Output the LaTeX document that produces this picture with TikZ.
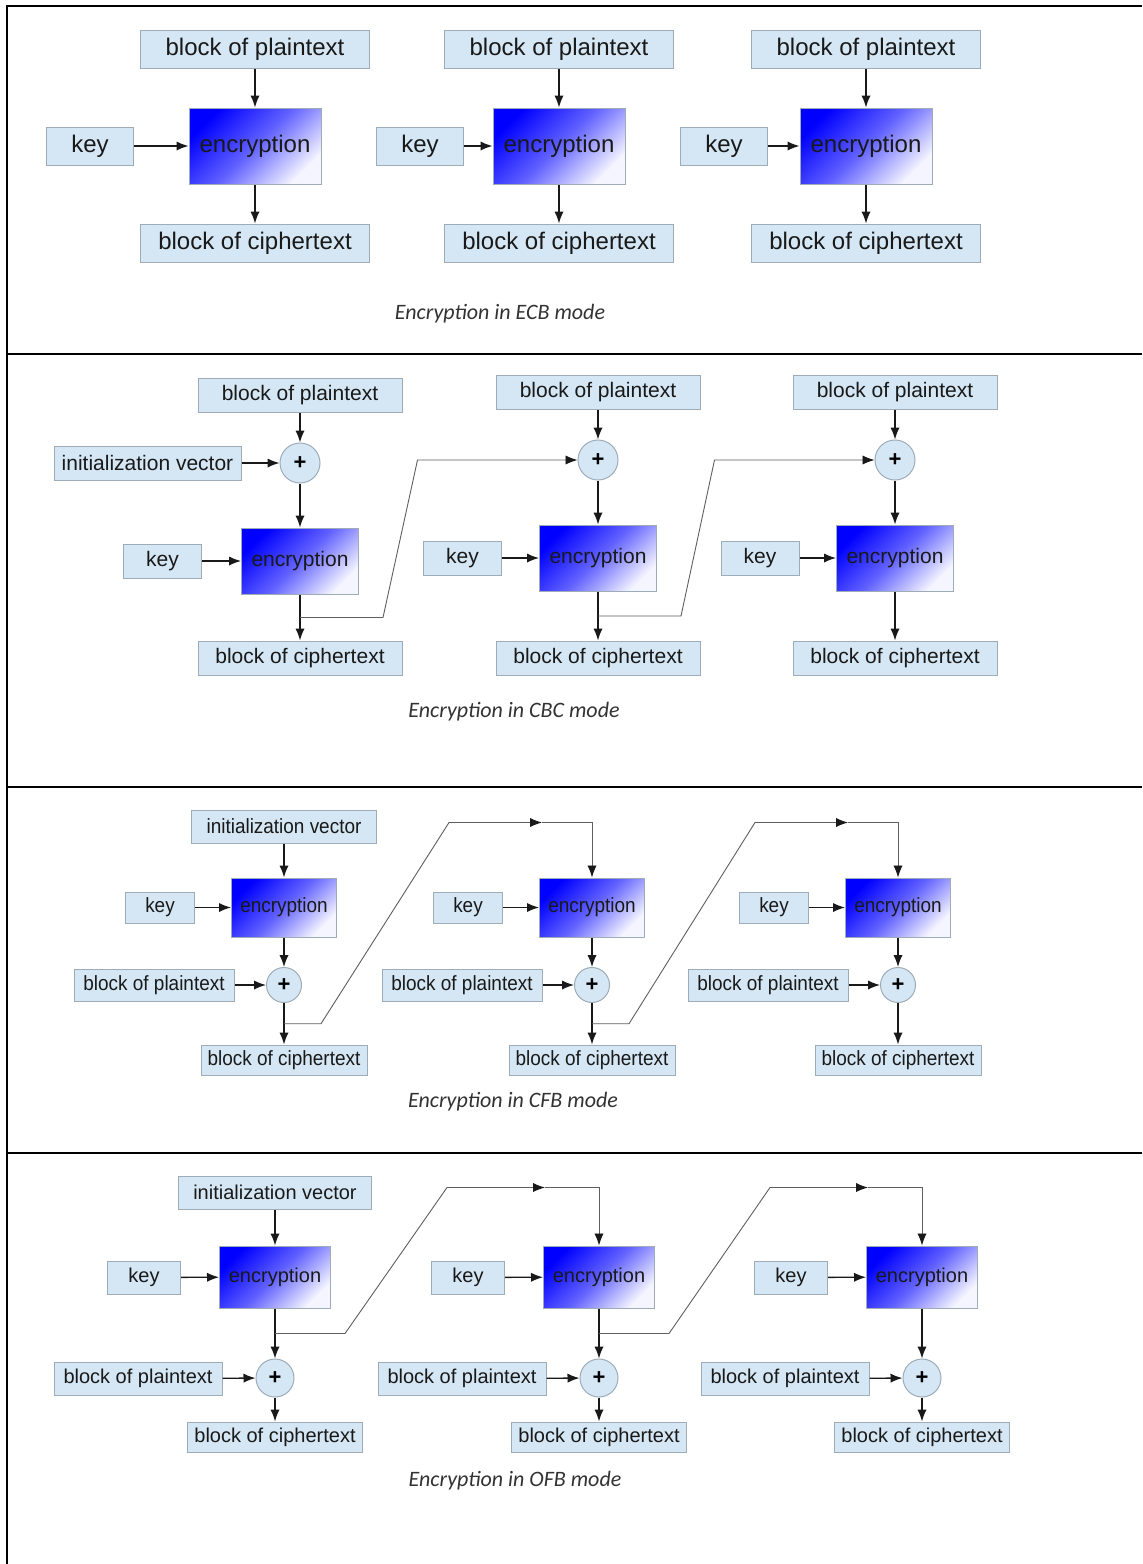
\documentclass[tikz,border=0pt]{standalone}
\usepackage{fontspec}
\setmainfont{Liberation Sans}
\newfontfamily\capfont{Carlito}
\newfontfamily\narrowfont[FakeStretch=0.92]{Liberation Sans}
\usetikzlibrary{%
  arrows.meta,%
  calc%
}
\definecolor{boxfill}{RGB}{213,231,244}
\definecolor{boxline}{RGB}{158,172,184}
\definecolor{inktext}{RGB}{25,25,25}
\definecolor{feedgray}{RGB}{95,95,95}
\newcommand\ecbfont{\fontsize{12}{14}\selectfont}
\newcommand\cbcfont{\fontsize{10.5}{12}\selectfont}
\newcommand\cfbfont{\narrowfont\fontsize{10.3}{12}\selectfont}
\newcommand\ofbfont{\fontsize{10}{12}\selectfont}
\tikzset{>={Latex[length=6pt,width=4.6pt]}}
\tikzset{block/.style 2 args={draw=boxline, fill=boxfill, line width=0.5pt,
    inner sep=0pt, minimum width=#1*0.5pt, minimum height=#2*0.5pt, text=inktext},
  encbox/.style 2 args={draw=boxline, line width=0.5pt, inner sep=0pt,
    top color=blue, bottom color=blue!4, middle color=blue!62, shading angle=45,
    minimum width=#1*0.5pt, minimum height=#2*0.5pt, text=inktext},
  xorcirc/.style={circle, draw=boxline, fill=boxfill, line width=0.5pt, inner sep=0pt,
    minimum size=#1*0.5pt, font=\bfseries\fontsize{11}{12}\selectfont},
  link/.style={->, line width=0.65pt, draw=inktext},
  feed/.style={-{Latex[length=6pt,width=4.6pt,color=inktext]}, line width=0.45pt,
    draw=feedgray},
  frameline/.style={line width=1.2pt},
  caption/.style={font=\capfont\itshape\fontsize{11}{13}\selectfont, text=black!80}}

\begin{document}
\begin{tikzpicture}[x=0.5pt, y=-0.5pt]
  \path[fill=white, use as bounding box] (0,0) rectangle (1142,1564);
  % frame and separators
  \draw[frameline] (7,1564) -- (7,6) -- (1142,6);
  \foreach \y in {354,787,1153}
    \draw[frameline] (7,\y) -- (1142,\y);

  % ECB
  \foreach \i/\cx/\kx in {1/255/90, 2/559/420, 3/866/724}{
    \node[block={229}{38}, font=\ecbfont] (ecbP\i) at (\cx,49) {block of plaintext};
    \node[encbox={132}{76}, font=\ecbfont] (ecbE\i) at (\cx,146) {encryption};
    \node[block={87}{38}, font=\ecbfont] (ecbK\i) at (\kx,146) {key};
    \node[block={229}{38}, font=\ecbfont] (ecbC\i) at (\cx,243) {block of ciphertext};
    \draw[link] (ecbP\i) -- (ecbE\i);
    \draw[link] (ecbK\i) -- (ecbE\i);
    \draw[link] (ecbE\i) -- (ecbC\i);
  }
  \node[caption] (ecbCap) at (500,314) {Encryption in ECB mode};

  % CBC
  \node[block={187}{34}, font=\cbcfont] (cbcIV) at (147.5,463) {initialization vector};
  \foreach \i/\cx/\dy/\kx in {1/300/3/162.5, 2/598/0/462.5, 3/895/0/760}{
    \node[block={204}{34}, font=\cbcfont] (cbcP\i) at (\cx,392+\dy) {block of plaintext};
    \node[xorcirc=40] (cbcX\i) at (\cx,460+\dy) {+};
    \node[encbox={117}{66}, font=\cbcfont] (cbcE\i) at (\cx,558+\dy) {encryption};
    \node[block={78}{34}, font=\cbcfont] (cbcK\i) at (\kx,558+\dy) {key};
    \node[block={204}{34}, font=\cbcfont] (cbcC\i) at (\cx,658) {block of ciphertext};
    \coordinate (cbcJ\i) at ($(cbcE\i.south)!0.5!(cbcC\i.north)$);
    \draw[link] (cbcP\i) -- (cbcX\i);
    \draw[link] (cbcX\i) -- (cbcE\i);
    \draw[link] (cbcK\i) -- (cbcE\i);
    \draw[link] (cbcE\i) -- (cbcC\i);
  }
  \draw[link] (cbcIV) -- (cbcX1);
  \foreach \i/\j in {1/2, 2/3}
    \draw[feed] (cbcJ\i) -- ++(83,0) -- ($(cbcX\j.west)+(-160,0)$) -- (cbcX\j.west);
  \node[caption] (cbcCap) at (514,712) {Encryption in CBC mode};

  % CFB
  \node[block={185}{33}, font=\cfbfont] (cfbIV) at (284,826.5) {initialization vector};
  \foreach \i/\cx in {1/284, 2/592, 3/898}{
    \node[encbox={105}{59}, font=\cfbfont] (cfbE\i) at (\cx,907.5) {encryption};
    \node[block={69}{31}, font=\cfbfont] (cfbK\i) at (\cx-124,907.5) {key};
    \node[xorcirc=35] (cfbX\i) at (\cx,985) {+};
    \node[block={160}{32}, font=\cfbfont] (cfbP\i) at (\cx-130,985) {block of plaintext};
    \node[block={166}{30}, font=\cfbfont] (cfbC\i) at (\cx,1060) {block of ciphertext};
    \coordinate (cfbJ\i) at ($(cfbX\i.south)!0.5!(cfbC\i.north)$);
    \coordinate (cfbM\i) at ($(cfbE\i.north)+(-50,-55)$);
    \draw[link] (cfbK\i) -- (cfbE\i);
    \draw[link] (cfbE\i) -- (cfbX\i);
    \draw[link] (cfbP\i) -- (cfbX\i);
    \draw[link] (cfbX\i) -- (cfbC\i);
  }
  \draw[link] (cfbIV) -- (cfbE1);
  \foreach \i/\j in {1/2, 2/3}{
    \draw[feed] (cfbJ\i) -- ++(37,0) -- ($(cfbM\j)+(-93,0)$) -- (cfbM\j);
    \draw[feed] (cfbM\j) -| (cfbE\j.north);
  }
  \node[caption] (cfbCap) at (513,1102) {Encryption in CFB mode};

  % OFB
  \node[block={193}{33}, font=\ofbfont] (ofbIV) at (275,1192.5) {initialization vector};
  \foreach \i/\cx in {1/275, 2/599, 3/922}{
    \node[encbox={111}{62}, font=\ofbfont] (ofbE\i) at (\cx,1277) {encryption};
    \node[block={73}{33}, font=\ofbfont] (ofbK\i) at (\cx-131,1277.5) {key};
    \node[xorcirc=38] (ofbX\i) at (\cx,1378) {+};
    \node[block={168}{33}, font=\ofbfont] (ofbP\i) at (\cx-137,1378.5) {block of plaintext};
    \node[block={175}{30}, font=\ofbfont] (ofbC\i) at (\cx,1437) {block of ciphertext};
    \coordinate (ofbJ\i) at ($(ofbE\i.south)!0.5!(ofbX\i.north)$);
    \coordinate (ofbM\i) at ($(ofbE\i.north)+(-54,-58)$);
    \draw[link] (ofbK\i) -- (ofbE\i);
    \draw[link] (ofbE\i) -- (ofbX\i);
    \draw[link] (ofbP\i) -- (ofbX\i);
    \draw[link] (ofbX\i) -- (ofbC\i);
  }
  \draw[link] (ofbIV) -- (ofbE1);
  \foreach \i/\j in {1/2, 2/3}{
    \draw[feed] (ofbJ\i) -- ++(70,0) -- ($(ofbM\j)+(-98,0)$) -- (ofbM\j);
    \draw[feed] (ofbM\j) -| (ofbE\j.north);
  }
  \node[caption] (ofbCap) at (515,1481) {Encryption in OFB mode};
\end{tikzpicture}
\end{document}
